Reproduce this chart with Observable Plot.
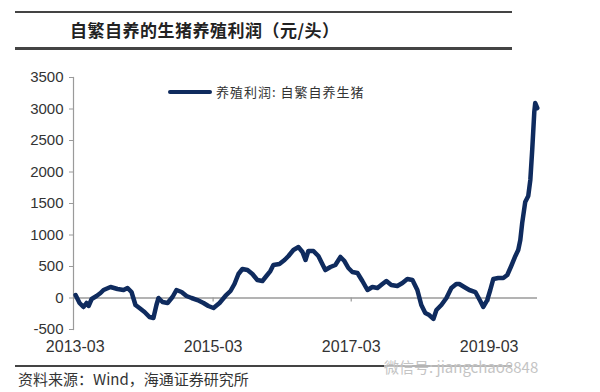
<!DOCTYPE html>
<html>
<head>
<meta charset="utf-8">
<script src="https://cdn.jsdelivr.net/npm/d3@7"></script>
<script src="https://cdn.jsdelivr.net/npm/@observablehq/plot@0.6"></script>
<style>
  html, body { margin: 0; padding: 0; background: #fff; }
  #wrap { position: relative; width: 600px; height: 392px; overflow: hidden; background: #fff; }
  .rule { position: absolute; left: 15px; width: 497px; background: #444; }
  #title { position: absolute; left: 70px; top: 19px; font-family: "Noto Sans CJK SC", sans-serif; font-weight: bold; font-size: 17px; letter-spacing: 0.5px; color: #222; white-space: nowrap; line-height: 22px; }
  #legend { position: absolute; left: 168px; top: 82px; display: flex; align-items: center; font-family: "Noto Sans CJK SC", sans-serif; font-size: 13px; letter-spacing: 1px; color: #333; white-space: nowrap; }
  #legend .sw { width: 44px; height: 4px; border-radius: 2px; background: #0f2b5e; margin-right: 4px; }
  #chart { position: absolute; left: 0; top: 60px; }
  #source { position: absolute; left: 18px; top: 370px; font-family: "Noto Sans CJK SC", sans-serif; font-size: 15px; color: #333; white-space: nowrap; line-height: 18px; }
  #wm { position: absolute; left: 384px; top: 356px; font-family: "Noto Sans CJK SC", sans-serif; font-size: 15px; color: #c4c4c4; white-space: nowrap; background: rgba(255,255,255,0.6); }
</style>
</head>
<body>
<div id="wrap">
  <div class="rule" style="top:11px;height:2px;"></div>
  <div id="title">自繁自养的生猪养殖利润（元/头）</div>
  <div class="rule" style="top:47px;height:3px;"></div>
  <div id="chart"></div>
  <div id="legend"><div class="sw"></div><span>养殖利润: 自繁自养生猪</span></div>
  <div class="rule" style="top:365px;height:2px;"></div>
  <div id="source">资料来源：Wind，海通证券研究所</div>
  <div id="wm">微信号: jiangchao8848</div>
</div>
<script>
// Series: 养殖利润: 自繁自养生猪 (元/头)
const dates = [
  "2013-03-03","2013-03-24","2013-04-14","2013-04-30","2013-05-11","2013-05-27","2013-06-22","2013-07-13","2013-07-29","2013-09-04",
  "2013-10-11","2013-11-12","2013-12-03","2013-12-24","2014-01-14","2014-02-04","2014-03-03","2014-03-29","2014-04-19","2014-05-05",
  "2014-05-16","2014-06-06","2014-07-03","2014-07-29","2014-08-19","2014-09-15","2014-10-11","2014-11-07","2014-12-08","2015-01-09",
  "2015-02-04","2015-03-03","2015-04-04","2015-05-05","2015-06-01","2015-06-22","2015-07-13","2015-08-03","2015-08-30","2015-09-25",
  "2015-10-21","2015-11-17","2015-12-08","2015-12-29","2016-01-14","2016-02-15","2016-03-13","2016-04-03","2016-04-29","2016-05-26",
  "2016-06-16","2016-07-02","2016-07-17","2016-08-13","2016-09-08","2016-09-29","2016-10-15","2016-11-11","2016-12-07","2017-01-03",
  "2017-01-24","2017-02-14","2017-03-07","2017-04-03","2017-04-29","2017-05-26","2017-06-21","2017-07-18","2017-08-13","2017-09-03",
  "2017-09-29","2017-10-31","2017-11-27","2017-12-23","2018-01-19","2018-02-14","2018-03-07","2018-03-28","2018-04-18","2018-05-10",
  "2018-05-26","2018-06-21","2018-07-18","2018-08-13","2018-09-08","2018-09-24","2018-10-20","2018-11-16","2018-12-18","2019-01-13",
  "2019-01-29","2019-02-19","2019-03-07","2019-03-23","2019-04-18","2019-05-15","2019-06-05","2019-06-26","2019-07-18","2019-08-02",
  "2019-08-13","2019-08-23","2019-09-08","2019-09-24","2019-10-05","2019-10-15","2019-10-26","2019-10-31","2019-11-11"
];
const profits = [
  48,-79,-143,-79,-127,-16,32,79,127,175,
  143,127,159,95,-111,-159,-222,-302,-317,-111,
  0,-63,-79,16,127,95,32,0,-32,-79,
  -127,-159,-79,32,111,222,381,460,444,381,
  286,270,349,428,524,540,603,667,762,809,
  730,603,746,746,667,540,444,492,524,651,
  587,476,413,397,270,127,175,159,222,270,
  206,190,238,302,286,127,-111,-238,-270,-333,
  -190,-111,0,159,222,222,175,127,95,-48,
  -143,-32,127,302,317,317,365,508,667,762,
  920,1190,1524,1619,1873,2349,2952,3095,3015
];
const yTicks = [-500, 0, 500, 1000, 1500, 2000, 2500, 3000, 3500];
const xTickLabels = ["2013-03", "2015-03", "2017-03", "2019-03"];
const xDomain = ["2013-02-20", "2019-11-12"];

const parse = d3.utcParse("%Y-%m-%d");
const parseYM = d3.utcParse("%Y-%m");
const data = dates.map((d, i) => ({date: parse(d), value: profits[i]}));
const xTicks = xTickLabels.map(parseYM);

const chart = Plot.plot({
  width: 600,
  height: 300,
  marginLeft: 73,
  marginRight: 63,
  marginTop: 17,
  marginBottom: 31,
  style: {fontFamily: "'Liberation Sans', Arial, sans-serif", color: "#333", background: "transparent"},
  x: {type: "utc", domain: xDomain.map(parse)},
  y: {domain: [-500, 3500]},
  marks: [
    Plot.ruleY([0], {stroke: "#9a9a9a", strokeWidth: 1.5}),
    Plot.ruleX(xTicks.slice(1), {y1: 0, y2: -65, stroke: "#9a9a9a", strokeWidth: 1.2}),
    Plot.frame({anchor: "left", stroke: "#9a9a9a", strokeWidth: 1.2}),
    Plot.axisY({ticks: yTicks, tickSize: 4, tickPadding: 6, fontSize: 15, stroke: "#9a9a9a", label: null, tickFormat: d => String(d)}),
    Plot.axisX({ticks: xTicks, tickSize: 0, tickPadding: 11, fontSize: 16, label: null, tickFormat: d3.utcFormat("%Y-%m")}),
    Plot.line(data, {x: "date", y: "value", stroke: "#0f2b5e", strokeWidth: 4.5, curve: "linear", strokeLinejoin: "round", strokeLinecap: "round"})
  ]
});
document.getElementById("chart").appendChild(chart);
</script>
</body>
</html>
